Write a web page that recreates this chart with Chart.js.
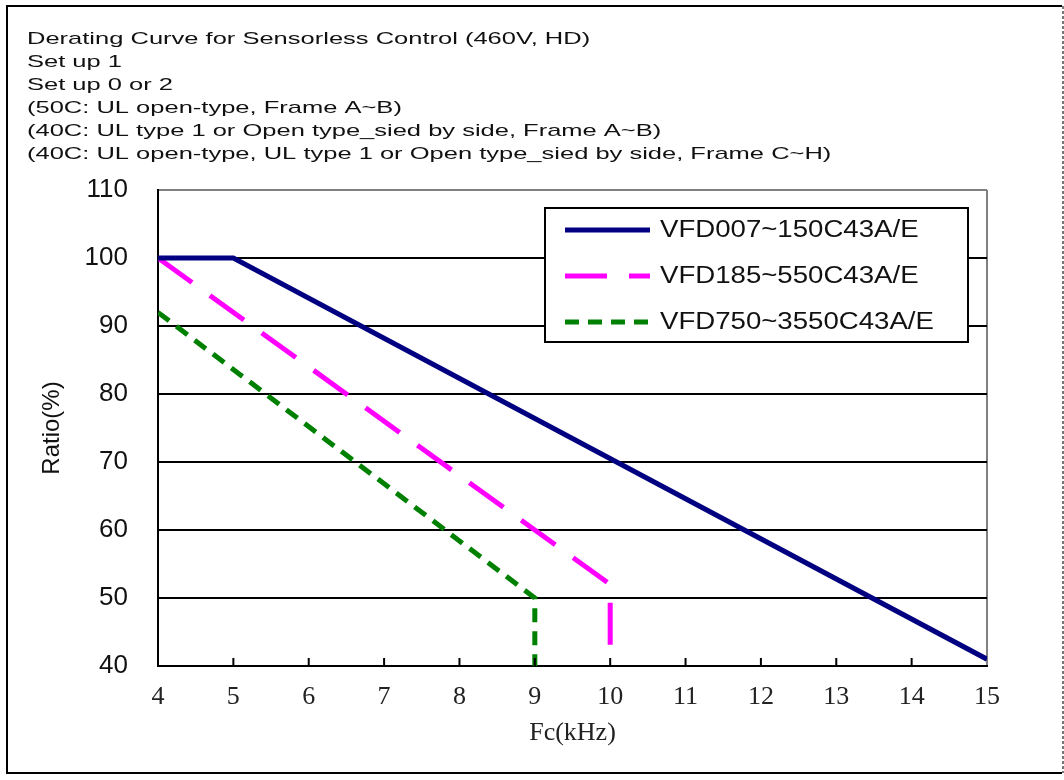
<!DOCTYPE html>
<html>
<head>
<meta charset="utf-8">
<script src="https://cdn.jsdelivr.net/npm/chart.js@4.4.0/dist/chart.umd.min.js"></script>
<style>
  html, body { margin: 0; padding: 0; background: #fff; }
  canvas { display: block; }
</style>
</head>
<body>
<canvas id="c" width="1064" height="780"></canvas>
<script>
// ---- data ----
const titleLines = [
  'Derating Curve for Sensorless Control (460V, HD)',
  'Set up 1',
  'Set up 0 or 2',
  '(50C: UL open-type, Frame A~B)',
  '(40C: UL type 1 or Open type_sied by side, Frame A~B)',
  '(40C: UL open-type, UL type 1 or Open type_sied by side, Frame C~H)'
];
const seriesNames = ['VFD007~150C43A/E', 'VFD185~550C43A/E', 'VFD750~3550C43A/E'];
const freqA = [4, 5, 15];
const ratioA = [100, 100, 41];
const freqB = [4, 10, 10];
const ratioB = [100, 52, 40];
const freqC = [4, 9, 9];
const ratioC = [92, 50, 40];
const xMin = 4, xMax = 15, xStep = 1;
const yMin = 40, yMax = 110, yStep = 10;
const xTitle = 'Fc(kHz)';
const yTitle = 'Ratio(%)';

const toPts = (xs, ys) => xs.map((x, i) => ({ x: x, y: ys[i] }));

const styles = [
  { color: '#000080', dash: [] },
  { color: '#FF00FF', dash: [42, 22] },
  { color: '#008000', dash: [14, 9] }
];

const pageDecor = {
  id: 'pageDecor',
  afterDraw(chart) {
    const ctx = chart.ctx;
    const ca = chart.chartArea;
    ctx.save();
    // outer frame
    ctx.lineWidth = 2;
    ctx.strokeStyle = '#000';
    ctx.beginPath();
    ctx.moveTo(1062, 6); ctx.lineTo(7, 6); ctx.lineTo(7, 773); ctx.lineTo(1062, 773);
    ctx.stroke();
    ctx.strokeStyle = '#777';
    ctx.setLineDash([3, 2]);
    ctx.beginPath(); ctx.moveTo(1063, 6); ctx.lineTo(1063, 773); ctx.stroke();
    ctx.setLineDash([]);

    // header text lines (wide font)
    ctx.fillStyle = '#111';
    ctx.font = '17px "Liberation Sans", Arial, sans-serif';
    ctx.textBaseline = 'middle';
    ctx.textAlign = 'left';
    titleLines.forEach((t, i) => {
      ctx.save();
      ctx.translate(27, 39 + i * 23);
      ctx.scale(1.5, 1);
      ctx.fillText(t, 0, 0);
      ctx.restore();
    });

    // inward tick marks on x axis
    const xs = chart.scales.x;
    ctx.strokeStyle = '#000';
    ctx.lineWidth = 2;
    xs.ticks.forEach(tk => {
      if (tk.value > xMin && tk.value < xMax) {
        const px = xs.getPixelForValue(tk.value);
        ctx.beginPath();
        ctx.moveTo(px, ca.bottom);
        ctx.lineTo(px, ca.bottom - 8);
        ctx.stroke();
      }
    });

    // legend box inside plot
    const bx = 545, by = 208, bw = 423, bh = 134;
    ctx.fillStyle = '#fff';
    ctx.fillRect(bx, by, bw, bh);
    ctx.strokeStyle = '#000';
    ctx.lineWidth = 2;
    ctx.strokeRect(bx, by, bw, bh);
    const rows = [230, 276, 322];
    chart.data.datasets.forEach((ds, i) => {
      const y = rows[i];
      ctx.strokeStyle = ds.borderColor;
      ctx.lineWidth = ds.borderWidth;
      ctx.setLineDash(ds.borderDash || []);
      ctx.beginPath();
      ctx.moveTo(565, y);
      ctx.lineTo(650, y);
      ctx.stroke();
      ctx.setLineDash([]);
      ctx.fillStyle = '#111';
      ctx.font = '23px "Liberation Sans", Arial, sans-serif';
      ctx.textBaseline = 'middle';
      ctx.save();
      ctx.translate(660, y + 1);
      ctx.scale(1.2, 1);
      ctx.fillText(ds.label, 0, 0);
      ctx.restore();
    });
    ctx.restore();
  }
};

new Chart(document.getElementById('c'), {
  type: 'line',
  data: {
    datasets: [
      { label: seriesNames[0], data: toPts(freqA, ratioA), borderColor: styles[0].color, borderWidth: 5, borderDash: styles[0].dash, pointRadius: 0, tension: 0, fill: false },
      { label: seriesNames[1], data: toPts(freqB, ratioB), borderColor: styles[1].color, borderWidth: 5, borderDash: styles[1].dash, pointRadius: 0, tension: 0, fill: false },
      { label: seriesNames[2], data: toPts(freqC, ratioC), borderColor: styles[2].color, borderWidth: 5, borderDash: styles[2].dash, pointRadius: 0, tension: 0, fill: false }
    ]
  },
  options: {
    responsive: false,
    animation: false,
    layout: { padding: { top: 190, right: 77, bottom: 0, left: 0 } },
    plugins: { legend: { display: false }, title: { display: false }, tooltip: { enabled: false } },
    scales: {
      x: {
        type: 'linear',
        min: xMin, max: xMax,
        ticks: { stepSize: xStep, color: '#222', padding: 16, font: { family: '"Liberation Serif", "Times New Roman", serif', size: 26 } },
        grid: { drawTicks: false, lineWidth: 2, color: c => (c.tick && c.tick.value === xMax) ? '#808080' : 'rgba(0,0,0,0)' },
        border: { display: true, color: '#000', width: 2 },
        title: { display: true, text: xTitle, color: '#222', padding: { top: 31, bottom: 31 }, font: { family: '"Liberation Serif", "Times New Roman", serif', size: 26 } },
        afterFit: s => { s.height = 114; }
      },
      y: {
        type: 'linear',
        min: yMin, max: yMax,
        ticks: { stepSize: yStep, color: '#111', padding: 30, font: { family: '"Liberation Sans", Arial, sans-serif', size: 26 } },
        grid: { drawTicks: false, lineWidth: 2, color: c => (c.tick && c.tick.value === yMax) ? '#808080' : '#000' },
        border: { display: true, color: '#000', width: 2 },
        title: { display: true, text: yTitle, color: '#111', padding: { top: 38, bottom: 38 }, font: { family: '"Liberation Sans", Arial, sans-serif', size: 24 } },
        afterFit: s => { s.width = 158; }
      }
    }
  },
  plugins: [pageDecor]
});
</script>
</body>
</html>
